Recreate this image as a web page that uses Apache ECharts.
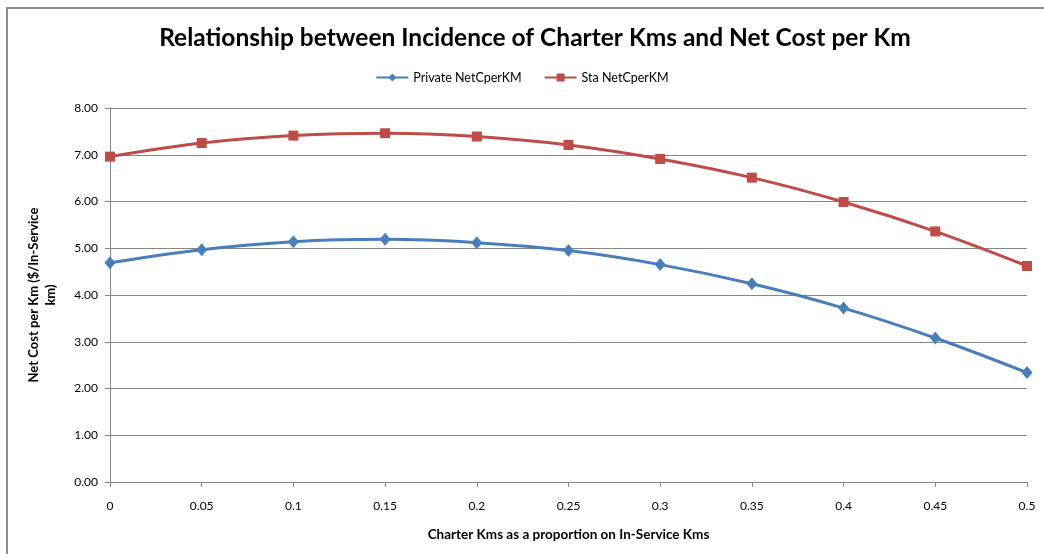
<!DOCTYPE html>
<html>
<head>
<meta charset="utf-8">
<script src="https://cdn.jsdelivr.net/npm/echarts@6/dist/echarts.min.js"></script>
<style>
  html, body { margin: 0; padding: 0; background: #fff; }
  #chart { width: 1044px; height: 554px; }
</style>
</head>
<body>
<div id="chart"></div>
<script>
// Charter share of in-service kms (x) and net cost per km for each operator type
const proportions = ['0', '0.05', '0.1', '0.15', '0.2', '0.25', '0.3', '0.35', '0.4', '0.45', '0.5'];
const privateNetCost = [4.69, 4.97, 5.14, 5.19, 5.12, 4.95, 4.65, 4.24, 3.72, 3.08, 2.34];
const staNetCost = [6.96, 7.25, 7.41, 7.46, 7.39, 7.21, 6.91, 6.51, 5.99, 5.36, 4.62];
const seriesNames = ['Private NetCperKM', 'Sta NetCperKM'];

const FONT = 'Lato, "Open Sans", sans-serif';
const gridGray = '#868686';

const chart = echarts.init(document.getElementById('chart'), null, { renderer: 'canvas' });

chart.setOption({
  backgroundColor: '#fff',
  animation: false,
  title: {
    text: 'Relationship between Incidence of Charter Kms and Net Cost per Km',
    left: 530,
    textAlign: 'center',
    top: 21,
    textStyle: { fontFamily: FONT, fontWeight: 'bold', fontSize: 24.5, color: '#000' }
  },
  legend: {
    top: 66,
    left: 'center',
    itemWidth: 32,
    itemHeight: 10,
    itemGap: 22,
    data: seriesNames,
    textStyle: { fontFamily: FONT, fontSize: 12.5, color: '#000' }
  },
  grid: { left: 110, right: 17, top: 108, bottom: 72, containLabel: false },
  xAxis: {
    type: 'category',
    data: proportions,
    boundaryGap: false,
    name: 'Charter Kms as a proportion on In-Service Kms',
    nameLocation: 'middle',
    nameGap: 46,
    nameTextStyle: { fontFamily: FONT, fontWeight: 'bold', fontSize: 13.5, color: '#000' },
    axisLine: { lineStyle: { color: gridGray, width: 1 } },
    axisTick: { show: true, alignWithLabel: true, length: 5, lineStyle: { color: gridGray } },
    axisLabel: { fontFamily: FONT, fontSize: 12, color: '#000', margin: 18 },
    splitLine: { show: false }
  },
  yAxis: {
    type: 'value',
    min: 0,
    max: 8,
    interval: 1,
    name: 'Net Cost per Km ($/In-Service\nkm)',
    nameLocation: 'middle',
    nameRotate: 90,
    nameGap: 51,
    nameTextStyle: { fontFamily: FONT, fontWeight: 'bold', fontSize: 13, color: '#000', lineHeight: 17 },
    axisLine: { show: true, lineStyle: { color: gridGray, width: 1 } },
    axisTick: { show: true, length: 5, lineStyle: { color: gridGray } },
    axisLabel: {
      fontFamily: FONT, fontSize: 12, color: '#000', margin: 12,
      formatter: v => v.toFixed(2)
    },
    splitLine: { show: true, lineStyle: { color: gridGray, width: 1 } }
  },
  series: [
    {
      name: seriesNames[0],
      type: 'line',
      data: privateNetCost,
      smooth: 0.35,
      symbol: 'diamond',
      symbolSize: [11, 13],
      itemStyle: { color: '#4A7EBB' },
      lineStyle: { color: '#4A7EBB', width: 3 },
      z: 3
    },
    {
      name: seriesNames[1],
      type: 'line',
      data: staNetCost,
      smooth: 0.35,
      symbol: 'rect',
      symbolSize: 10,
      itemStyle: { color: '#BE4B48' },
      lineStyle: { color: '#BE4B48', width: 3 },
      z: 3
    }
  ],
  graphic: [
    {
      type: 'rect',
      shape: { x: 7, y: 8, width: 1100, height: 600 },
      style: { fill: null, stroke: '#8c8c8c', lineWidth: 2 },
      silent: true,
      z: 0
    }
  ]
});
</script>
</body>
</html>
